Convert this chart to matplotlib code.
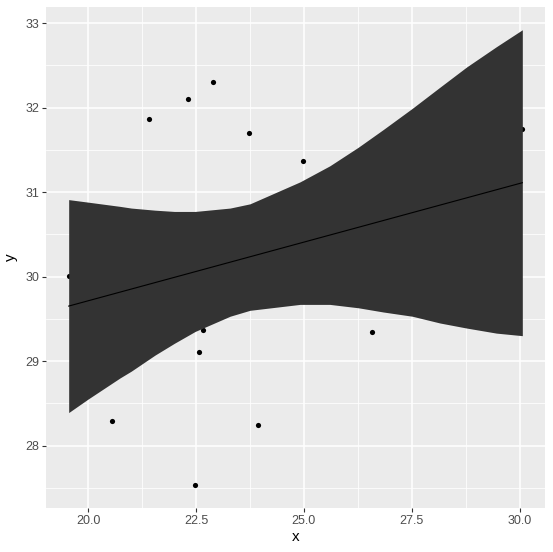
import matplotlib
matplotlib.use("Agg")
import matplotlib.pyplot as plt
import numpy as np

# visible points
x = np.array([19.55, 20.56, 21.40, 22.32, 22.48, 22.58, 22.67, 22.90,
              23.73, 23.94, 24.98, 26.58, 30.06])
y = np.array([30.01, 28.29, 31.86, 32.10, 27.53, 29.11, 29.37, 32.30,
              31.70, 28.24, 31.37, 29.34, 31.75])

# smooth (lm) line and its confidence band
fit_x = [19.55, 30.06]
fit_y = [29.65, 31.11]
band_x = [19.55, 20.00, 20.74, 21.00, 21.55, 22.00, 22.48, 23.29, 23.75,
          24.91, 25.60, 26.26, 26.84, 27.51, 28.15, 28.77, 29.46, 30.06]
band_hi = [30.91, 30.88, 30.83, 30.81, 30.785, 30.77, 30.77, 30.81, 30.86,
           31.12, 31.31, 31.53, 31.74, 31.99, 32.24, 32.48, 32.72, 32.92]
band_lo = [28.39, 28.55, 28.80, 28.88, 29.07, 29.21, 29.35, 29.53, 29.60,
           29.67, 29.67, 29.63, 29.58, 29.53, 29.45, 29.39, 29.33, 29.30]

plt.rcParams['font.family'] = ['Liberation Sans', 'DejaVu Sans']

fig = plt.figure(figsize=(5.53, 5.52), dpi=100)
ax = fig.add_axes([46/553, 1 - 508/552, 499/553, 501/552])
ax.set_facecolor('#EBEBEB')

ax.scatter(x, y, s=14, color='black', linewidths=0, zorder=2)
ax.fill_between(band_x, band_lo, band_hi, color='#333333', linewidth=0, zorder=3)
ax.plot(fit_x, fit_y, color='black', linewidth=0.8, zorder=4)

ax.set_xticks([20.0, 22.5, 25.0, 27.5, 30.0])
ax.set_xticklabels(['20.0', '22.5', '25.0', '27.5', '30.0'])
ax.set_yticks([28, 29, 30, 31, 32, 33])
ax.set_xticks([18.75, 21.25, 23.75, 26.25, 28.75, 31.25], minor=True)
ax.set_yticks([27.5, 28.5, 29.5, 30.5, 31.5, 32.5, 33.5], minor=True)

# limits after ticks so the minor ticks don't widen them (ggplot 5% expand)
xr = x.max() - x.min()
ax.set_xlim(x.min() - 0.05*xr, x.max() + 0.05*xr)
ymin = min(y.min(), min(band_lo))
ymax = max(y.max(), max(band_hi))
yr = ymax - ymin
ax.set_ylim(ymin - 0.05*yr, ymax + 0.05*yr)

ax.grid(which='major', color='white', linewidth=1.1, zorder=0)
ax.grid(which='minor', color='white', linewidth=0.55, zorder=0)
ax.set_axisbelow(True)
for sp in ax.spines.values():
    sp.set_visible(False)

ax.tick_params(which='major', length=3, width=0.8, color='#333333',
               labelcolor='#4D4D4D', labelsize=9, pad=2)
ax.tick_params(which='minor', length=0)

ax.set_xlabel('x', fontsize=11, labelpad=2)
ax.set_ylabel('y', fontsize=11, labelpad=5)

fig.savefig('out.png', dpi=100, facecolor='white')
